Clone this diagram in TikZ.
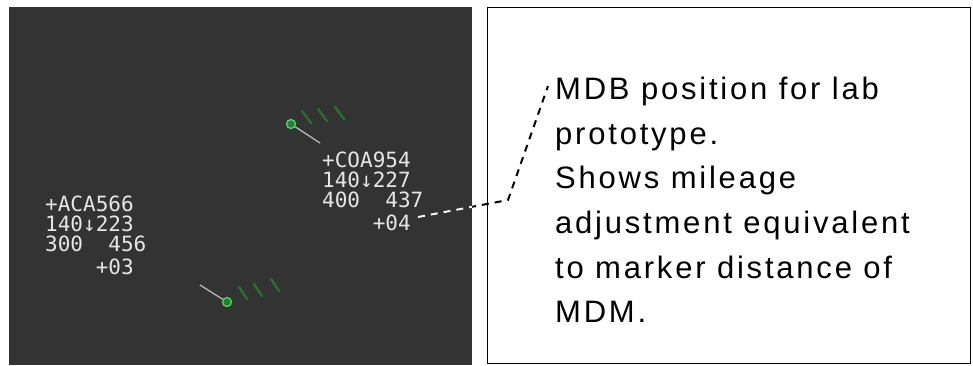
\documentclass[tikz,border=0pt]{standalone}
\usepackage{fontspec}
\setmainfont{Liberation Sans}
\newfontfamily\radarfont{DejaVu Sans Mono}
\newfontfamily\notefont[LetterSpace=9]{Liberation Sans}
\begin{document}
\begin{tikzpicture}[x=1pt,y=-1pt,
  panel/.style={fill=scopebg,draw=none},
  tag/.style={font=\radarfont\fontsize{21}{20}\selectfont,text=tagwhite,align=left,anchor=north west,inner sep=0pt},
  trail/.style={draw=trailgreen,line width=2.4pt,line cap=round},
  vec/.style={draw=tagwhite!80!black,line width=1.3pt},
  blip/.style={circle,draw=blipgreen,fill=blipgreen!55!black,line width=1.2pt,minimum size=9pt,inner sep=0pt},
  leader/.style={line width=2pt,dash pattern=on 7pt off 6pt}]
\definecolor{scopebg}{HTML}{333333}
\definecolor{tagwhite}{HTML}{E6E6E6}
\definecolor{trailgreen}{HTML}{2B6E2F}
\definecolor{blipgreen}{HTML}{4CE060}
\useasboundingbox (0,0) rectangle (973,365);
% radar panel
\path[panel] (9,7) rectangle (472,365);
% callout box
\draw[line width=0.8pt] (487,7) rectangle (970,363);
% aircraft COA954
\node[blip] (b1) at (291,124) {};
\draw[trail] (302,111) -- (311,123);
\draw[trail] (318,109) -- (327,121);
\draw[trail] (335,107) -- (344,119);
\draw[vec] (b1) -- (320,143);
\node[tag] (coa) at (322,152) {+COA954\\140↓227\\400\ \ 437\\[3pt]\ \ \ \ +04};
% aircraft ACA566
\node[blip] (b2) at (227,302) {};
\draw[trail] (239,287) -- (247,299);
\draw[trail] (254,284) -- (262,296);
\draw[trail] (271,279) -- (279,291);
\draw[vec] (200,285) -- (b2);
\node[tag] (aca) at (45,196) {+ACA566\\140↓223\\300\ \ 456\\[3pt]\ \ \ \ +03};
% callout text
\node[font=\notefont\fontsize{31}{44.6}\selectfont,align=left,anchor=north west,inner sep=0pt] (note) at (555,77)
 {MDB position for lab\\prototype.\\Shows mileage\\adjustment equivalent\\to marker distance of\\MDM.};
% leader
\coordinate (l0) at (418,217);
\coordinate (l1) at (508,200);
\coordinate (l2) at (548,86);
\draw[leader,black] (l0) -- (l1) -- (l2);
\begin{scope}
\clip (9,7) rectangle (472,365);
\draw[leader,white] (l0) -- (l1) -- (l2);
\end{scope}
\end{tikzpicture}
\end{document}
